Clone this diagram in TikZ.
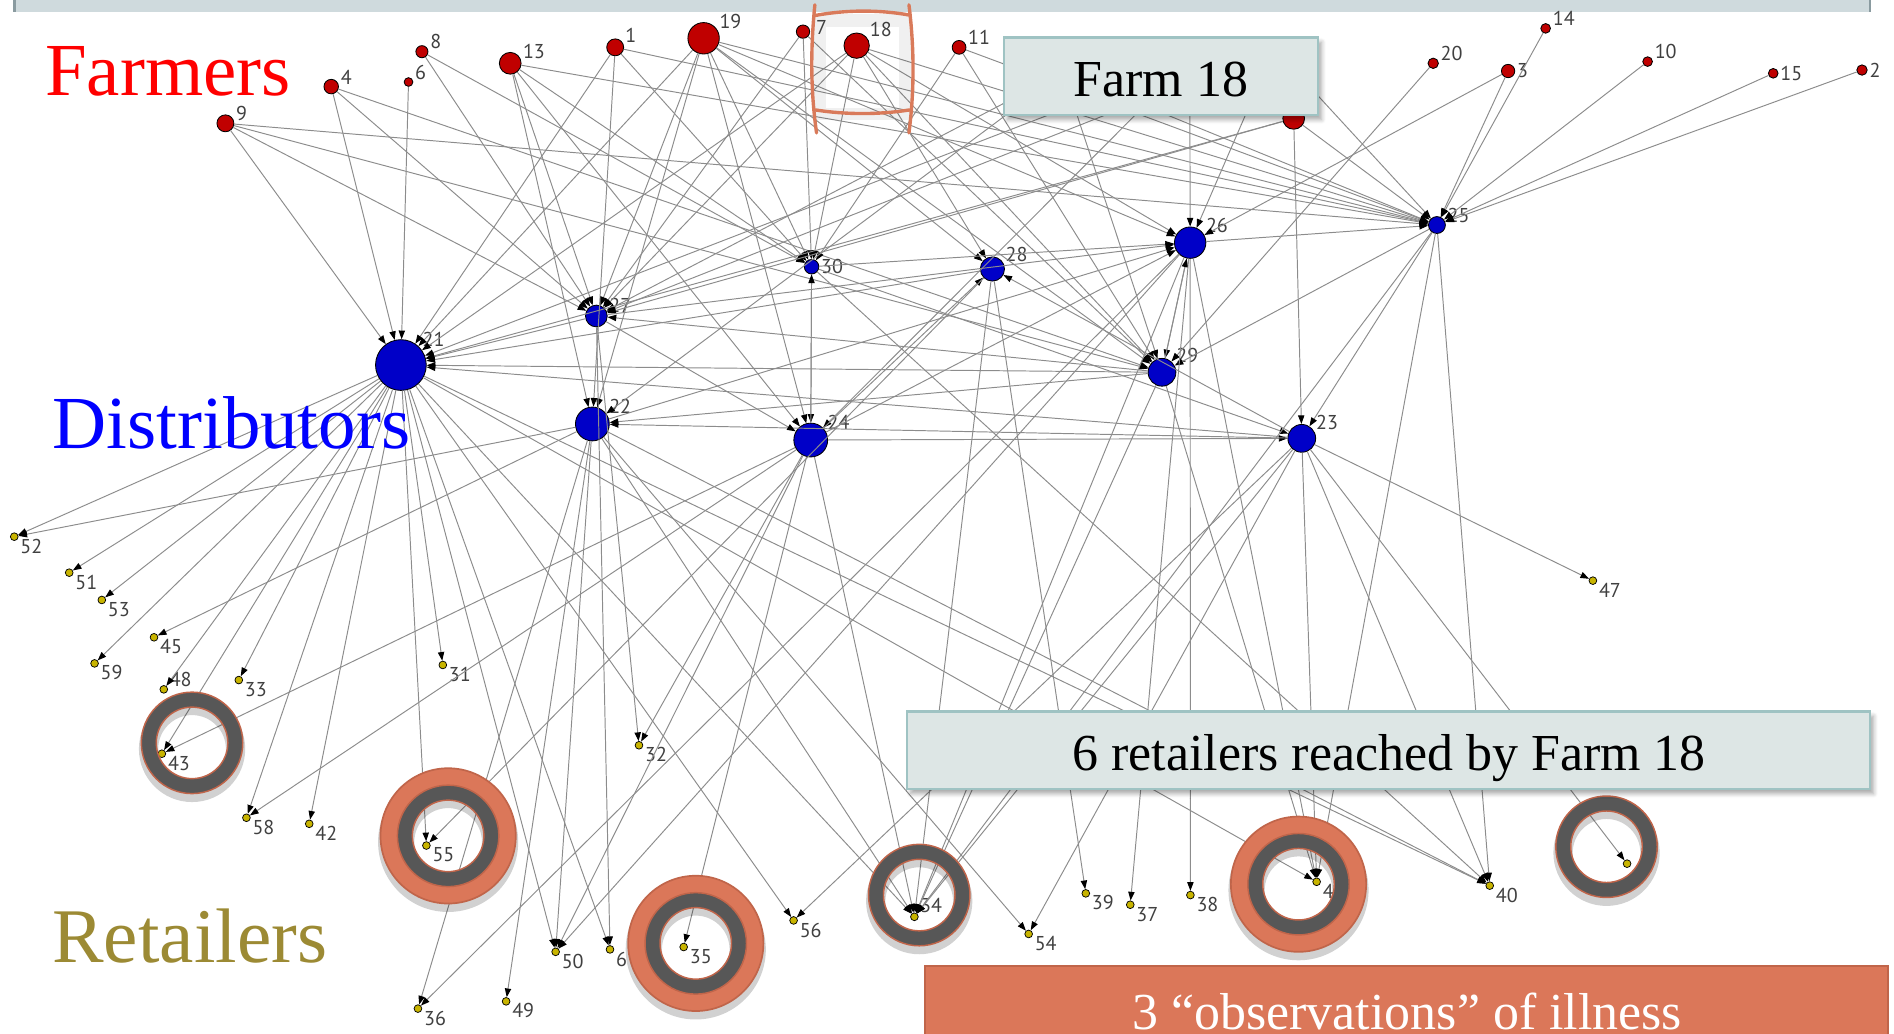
\documentclass[tikz,border=0pt]{standalone}
\usepackage{fontspec}
\setmainfont{Liberation Serif}
\newfontfamily\lblfont{PT Sans}
\usetikzlibrary{arrows.meta,shadows.blur}
\definecolor{farmred}{HTML}{C00000}
\definecolor{distblue}{HTML}{0000C8}
\definecolor{retyellow}{HTML}{C8B400}
\definecolor{edgegray}{HTML}{8C8C8C}
\definecolor{lblgray}{HTML}{404040}
\definecolor{ringgrey}{HTML}{575757}
\definecolor{ringorange}{HTML}{DB7759}
\definecolor{ringedge}{HTML}{C0654A}
\definecolor{boxfill}{HTML}{DDE6E5}
\definecolor{boxedge}{HTML}{9FC3C3}
\definecolor{barfill}{HTML}{CFDADD}
\definecolor{baredge}{HTML}{8A9BA0}
\definecolor{retolive}{HTML}{9C8A34}
\definecolor{sqred}{HTML}{D97A5A}
\newcommand\greyring[2]{%
  \fill[ringgrey,even odd rule] (#1,#2) circle[radius=21pt] (#1,#2) circle[radius=14.8pt];
  \draw[ringedge,line width=0.6pt] (#1,#2) circle[radius=21pt] (#1,#2) circle[radius=14.8pt];}
\newcommand\plainring[2]{%
  \fill[black,opacity=0.18,even odd rule] (#1,#2+5) circle[radius=22pt] (#1,#2+5) circle[radius=14pt];
  \greyring{#1}{#2}}
\newcommand\sickring[2]{%
  \fill[black,opacity=0.18,even odd rule] (#1,#2+5) circle[radius=29pt] (#1,#2+5) circle[radius=14pt];
  \fill[ringorange,even odd rule] (#1,#2) circle[radius=28pt] (#1,#2) circle[radius=21pt];
  \draw[ringedge,line width=0.7pt] (#1,#2) circle[radius=28pt];
  \greyring{#1}{#2}}
\begin{document}
\begin{tikzpicture}[x=0.5pt,y=-0.5pt,
  conn/.style={draw=edgegray,line width=0.4pt,-{Triangle[length=3.6pt,width=2.6pt,color=black]}},
  fnode/.style={circle,draw=black,line width=0.35pt,fill=farmred,inner sep=0pt,minimum size=#1},
  dnode/.style={circle,draw=black,line width=0.35pt,fill=distblue,inner sep=0pt,minimum size=#1},
  rnode/.style={circle,draw=black,line width=0.3pt,fill=retyellow,inner sep=0pt,minimum size=3.2pt},
  lbl/.style={font=\lblfont\fontsize{8.3}{9}\selectfont,text=lblgray,inner sep=0.6pt},
  infobox/.style={draw=boxedge,fill=boxfill,line width=0.9pt,inner sep=0pt,
    blur shadow={shadow xshift=1.5pt,shadow yshift=-2pt,shadow blur steps=6,shadow opacity=35}},
  boxtext/.style={font=\fontsize{21.5}{24}\selectfont,inner sep=0pt,anchor=base},
  bigtext/.style={font=\fontsize{31}{34}\selectfont,inner sep=0pt,anchor=base west}]
\useasboundingbox (0,0) rectangle (1568,856);
% top bar
\fill[barfill] (12,0) rectangle (1548,10);
\draw[baredge,line width=1pt] (12,0) -- (12,10) (1548,0) -- (1548,10);
% farmers
\node[fnode=7pt,label={[lbl]20:1}] (f1) at (509.3,39.2) {};
\node[fnode=4.3pt,label={[lbl]0:2}] (f2) at (1541.5,58) {};
\node[fnode=5.5pt,label={[lbl]0:3}] (f3) at (1248.5,58.8) {};
\node[fnode=6pt,label={[lbl]5:4}] (f4) at (274.2,71.7) {};
\node[fnode=9pt] (f5) at (1071,98) {};
\node[fnode=3.6pt,label={[lbl]5:6}] (f6) at (338.2,67.9) {};
\node[fnode=5.5pt] (f7) at (664.8,26.2) {};
\node[fnode=5pt,label={[lbl]5:8}] (f8) at (349.3,42.8) {};
\node[fnode=7pt,label={[lbl]5:9}] (f9) at (186.6,102.1) {};
\node[fnode=4pt,label={[lbl]5:10}] (f10) at (1364,51) {};
\node[fnode=5.7pt,label={[lbl]10:11}] (f11) at (794,39.2) {};
\node[fnode=4pt] (f12) at (1055,40) {};
\node[fnode=9pt,label={[lbl]15:13}] (f13) at (422.4,52.4) {};
\node[fnode=4pt,label={[lbl]5:14}] (f14) at (1279.6,23.5) {};
\node[fnode=4pt,label={[lbl]0:15}] (f15) at (1468,60.7) {};
\node[fnode=4pt] (f16) at (880,60) {};
\node[fnode=4pt] (f17) at (985,50) {};
\node[fnode=10.5pt,label={[lbl]30:18}] (f18) at (709.2,37.8) {};
\node[fnode=13pt,label={[lbl]30:19}] (f19) at (582.5,31.7) {};
\node[fnode=4.3pt,label={[lbl]5:20}] (f20) at (1186.5,52.4) {};
% distributors
\node[dnode=21pt,label={[lbl]40:21}] (d21) at (331.9,302.2) {};
\node[dnode=14pt,label={[lbl]30:22}] (d22) at (490.4,351) {};
\node[dnode=11.5pt,label={[lbl]30:23}] (d23) at (1077.7,362.9) {};
\node[dnode=14pt,label={[lbl]30:24}] (d24) at (671.2,364.3) {};
\node[dnode=7pt,label={[lbl]5:25}] (d25) at (1189.6,186.3) {};
\node[dnode=13pt,label={[lbl]30:26}] (d26) at (985.3,200.9) {};
\node[dnode=9pt,label={[lbl]10:27}] (d27) at (493.7,261.6) {};
\node[dnode=10pt,label={[lbl]25:28}] (d28) at (821.6,222.7) {};
\node[dnode=11.5pt,label={[lbl]30:29}] (d29) at (962,308.2) {};
\node[dnode=6pt,label={[lbl]0:30}] (d30) at (671.9,220.8) {};
% retailers
\foreach \n/\x/\y/\t/\a in {31/366.6/550.5/31/-5, 32/529/617/32/-5, 33/197.7/563/33/-5, 34/757/759/34/25,
  35/566/784/35/-5, 36/346/835/36/-5, 37/935.7/749/37/-5, 38/985.5/741/38/-5, 39/898.9/739.6/39/-5,
  40/1233.3/733.2/40/-5, 4x/1090/730/4/-5, 42/256/682/42/-5, 43/134/624/43/-5, 45/127.5/527.6/45/-5,
  47/1318.7/480.7/47/-5, 48/135.6/570.7/48/15, 49/419/829/49/-5, 50/460/788/50/-5, 51/57.3/474.1/51/-5,
  52/11.8/444.3/52/-5, 53/84.3/496.7/53/-5, 54/851.6/773.2/54/-5, 55/353/700/55/-5, 56/657/762/56/-5,
  58/204/677/58/-5, 59/78.3/549.2/59/-5, 6x/505/786/6/-5}
  \node[rnode,label={[lbl]\a:\t}] (r\n) at (\x,\y) {};
\node[rnode] (rU) at (1347,715) {};
% edges farmer -> distributor
\foreach \a/\b in {f9/d21,f9/d27,f9/d25,f9/d29,f4/d21,f4/d27,f4/d29,f6/d21,f8/d27,f8/d30,
  f13/d27,f13/d22,f13/d25,f13/d30,f13/d24,f1/d21,f1/d22,f1/d30,f1/d25,
  f19/d21,f19/d27,f19/d22,f19/d24,f19/d30,f19/d28,f19/d29,f19/d26,f19/d25,
  f7/d30,f7/d27,f7/d29,f18/d21,f18/d27,f18/d30,f18/d28,f18/d29,f18/d26,f18/d25,
  f11/d29,f11/d25,f11/d30,f16/d27,f16/d22,f16/d29,f16/d25,f17/d26,f17/d21,f17/d24,
  f12/d26,f12/d25,f12/d27,f5/d23,f5/d21,f5/d27,f5/d25,
  f20/d29,f3/d26,f3/d25,f14/d25,f10/d25,f15/d25,f2/d25}
  \draw[conn] (\a) -- (\b);
% distributor -> distributor
\foreach \a/\b in {d27/d21,d29/d21,d23/d21,d28/d21,d30/d24,d24/d30,d29/d27,d24/d23,d26/d29,
  d29/d26,d26/d25,d30/d26,d23/d22,d29/d22,d27/d24,d24/d28,d24/d26,d22/d26,d27/d26,
  d25/d29,d25/d23,d23/d28,d30/d23}
  \draw[conn] (\a) -- (\b);
% distributor -> retailer
\foreach \a/\b in {d21/r52,d21/r51,d21/r53,d21/r59,d21/r48,d21/r33,d21/r43,d21/r58,d21/r42,
  d21/r31,d21/r55,d21/r50,d21/r6x,d21/r56,d21/r34,d21/r40,d21/r4x,
  d22/r52,d22/r45,d22/r36,d22/r49,d22/r50,d22/r54,d22/r40,d22/r34,
  d24/r43,d24/r58,d24/r50,d24/r35,d24/r34,d24/r32,d27/r32,d27/r6x,
  d28/r55,d28/r39,d28/r34,d26/r50,d26/r36,d26/r37,d26/r38,d26/r34,d26/r4x,
  d29/r34,d29/r4x,d23/r56,d23/r34,d23/r4x,d23/r40,d23/rU,d23/r47,d23/r54,
  d25/r4x,d25/r40,d25/r34,d30/r40}
  \draw[conn] (\a) -- (\b);
% rings
\plainring{159}{615}
\sickring{371}{692}
\sickring{576}{781}
\plainring{761}{741}
\sickring{1075}{732}
\plainring{1330}{701}
% hand drawn square around farm 18
\begin{scope}[line width=1.4pt,line cap=round]
\draw[black,opacity=0.06,line width=5pt] (679,17) -- (749,17) -- (749,94) -- (679,94) -- cycle;
\draw[sqred] (674.6,4) .. controls (671,40) and (671,75) .. (676,110);
\draw[sqred] (752.5,4) .. controls (757,40) and (757,75) .. (752.5,110);
\draw[sqred] (674,13) .. controls (700,8) and (728,8) .. (753,12.5);
\draw[sqred] (675,91) .. controls (700,95) and (728,95) .. (753,91);
\end{scope}
\node[lbl,anchor=west] (l7) at (674,23) {7};
% info boxes
\node[infobox,minimum width=130pt,minimum height=32pt] (fbox) at (961,63) {};
\node[boxtext] (ftext) at (961,80) {Farm 18};
\node[infobox,minimum width=398.5pt,minimum height=32pt] (rbox) at (1149.5,621) {};
\node[boxtext] (rtext) at (1150,638) {6 retailers reached by Farm 18};
\node[draw=ringedge,fill=ringorange,line width=0.8pt,minimum width=398.5pt,minimum height=40pt,inner sep=0pt] (obox) at (1164.5,840) {};
\node[boxtext,text=white] (otext) at (1165,852) {3 “observations” of illness};
% category titles
\node[bigtext,text=red] (tf) at (37,79) {Farmers};
\node[bigtext,text=blue] (td) at (43,371) {Distributors};
\node[bigtext,text=retolive,font=\fontsize{32}{34}\selectfont] (tr) at (43,797) {Retailers};
\end{tikzpicture}
\end{document}
